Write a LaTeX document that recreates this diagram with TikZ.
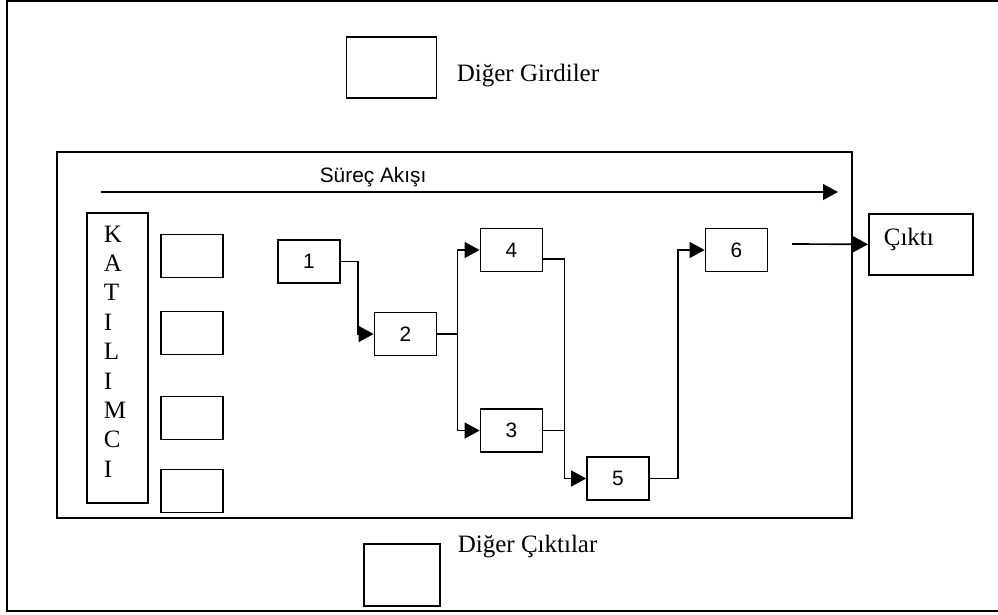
\documentclass[tikz,border=0pt]{standalone}
\usepackage{fontspec}
\setmainfont{Liberation Serif}
\setsansfont{Liberation Sans}
\usetikzlibrary{
  calc, % For coordinate calculations
  arrows.meta % For arrow tips
}

\def\px{0.48pt} % one pixel

\begin{document}
\begin{tikzpicture}[
      x=\px, y=-\px,
      line width=0.8pt, % Default line thickness
      >={Triangle[length=7.2pt,width=7.6pt]}, % Default arrow tip
      flow/.style={->}, % Style for flow arrows
      labeltext/.style={font=\fontsize{12}{14.1}\selectfont, inner sep=0pt},
      stepbox/.style={draw, font=\sffamily\fontsize{10}{12}\selectfont,
        minimum width=62*\px, minimum height=43*\px, inner sep=0pt},
      emptybox/.style={draw, minimum width=62*\px, minimum height=43*\px, inner sep=0pt},
    ]

    \useasboundingbox (0,0) rectangle (998,614);

    % Rahmen
    \draw[line width=1pt] (7,1) rectangle (1004,611);
    \draw (57,152) rectangle (852,518);

    % Sonstige Ein- und Ausgaben
    \node[emptybox, minimum width=90*\px, minimum height=61*\px] (inbox) at (391.5,67.5) {};
    \node[labeltext, anchor=base west] (intext) at (456,81) {Diğer Girdiler};
    \node[emptybox, minimum width=76*\px, minimum height=62*\px] (outbox) at (402,575) {};
    \node[labeltext, anchor=base west] (outtext) at (457,552) {Diğer Çıktılar};

    % Prozessrichtung
    \coordinate (flowA) at (101,192);
    \coordinate (flowB) at (838,192);
    \draw[flow] (flowA) -- (flowB);
    \node[anchor=base west, inner sep=0pt, font=\sffamily\fontsize{10}{12}\selectfont]
      (flowtext) at (319,182) {Süreç Akışı};

    % Teilnehmer
    \node[draw, minimum width=61*\px, minimum height=290*\px, inner sep=0pt,
      anchor=north west] (kat) at (86,212) {};
    \node[labeltext, align=left, anchor=north west] (kattext)
      at ($(kat.north west)+(17,13)$) {K\\A\\T\\I\\L\\I\\M\\C\\I};
    \foreach \y [count=\i] in {256,333,418,491}
    \node[emptybox] (p\i) at (192,\y) {};

    % Prozessschritte
    \node[stepbox] (s1) at (309,261.5) {1};
    \node[stepbox] (s2) at (405.5,334) {2};
    \node[stepbox] (s4) at (511.5,250) {4};
    \node[stepbox] (s3) at (511.5,430.5) {3};
    \node[stepbox] (s5) at (618,478.5) {5};
    \node[stepbox] (s6) at (736.5,250) {6};

    % Ausgabe
    \node[draw, minimum width=104*\px, minimum height=61*\px, anchor=north west]
      (cikti) at (868,213) {};
    \node[labeltext, anchor=base west] (ciktitext) at ($(cikti.north west)+(15,32)$) {Çıktı};

    % Verbindungen
    \draw[flow] (s1.east) -- ++(17,0) |- (s2.west);
    \draw[flow] (s2.east) -- ++(20,0) |- (s4.west);
    \draw[flow] (s2.east) -- ++(20,0) |- (s3.west);
    \draw[flow] ($(s4.east)+(0,9)$) -- ++(21,0) |- (s5.west);
    \draw (s3.east) -- ++(21,0);
    \draw[flow] (s5.east) -- ++(28,0) |- (s6.west);
    \coordinate (outstart) at (792,244);
    \draw[flow] (outstart) -- (cikti.west);

  \end{tikzpicture}
\end{document}
